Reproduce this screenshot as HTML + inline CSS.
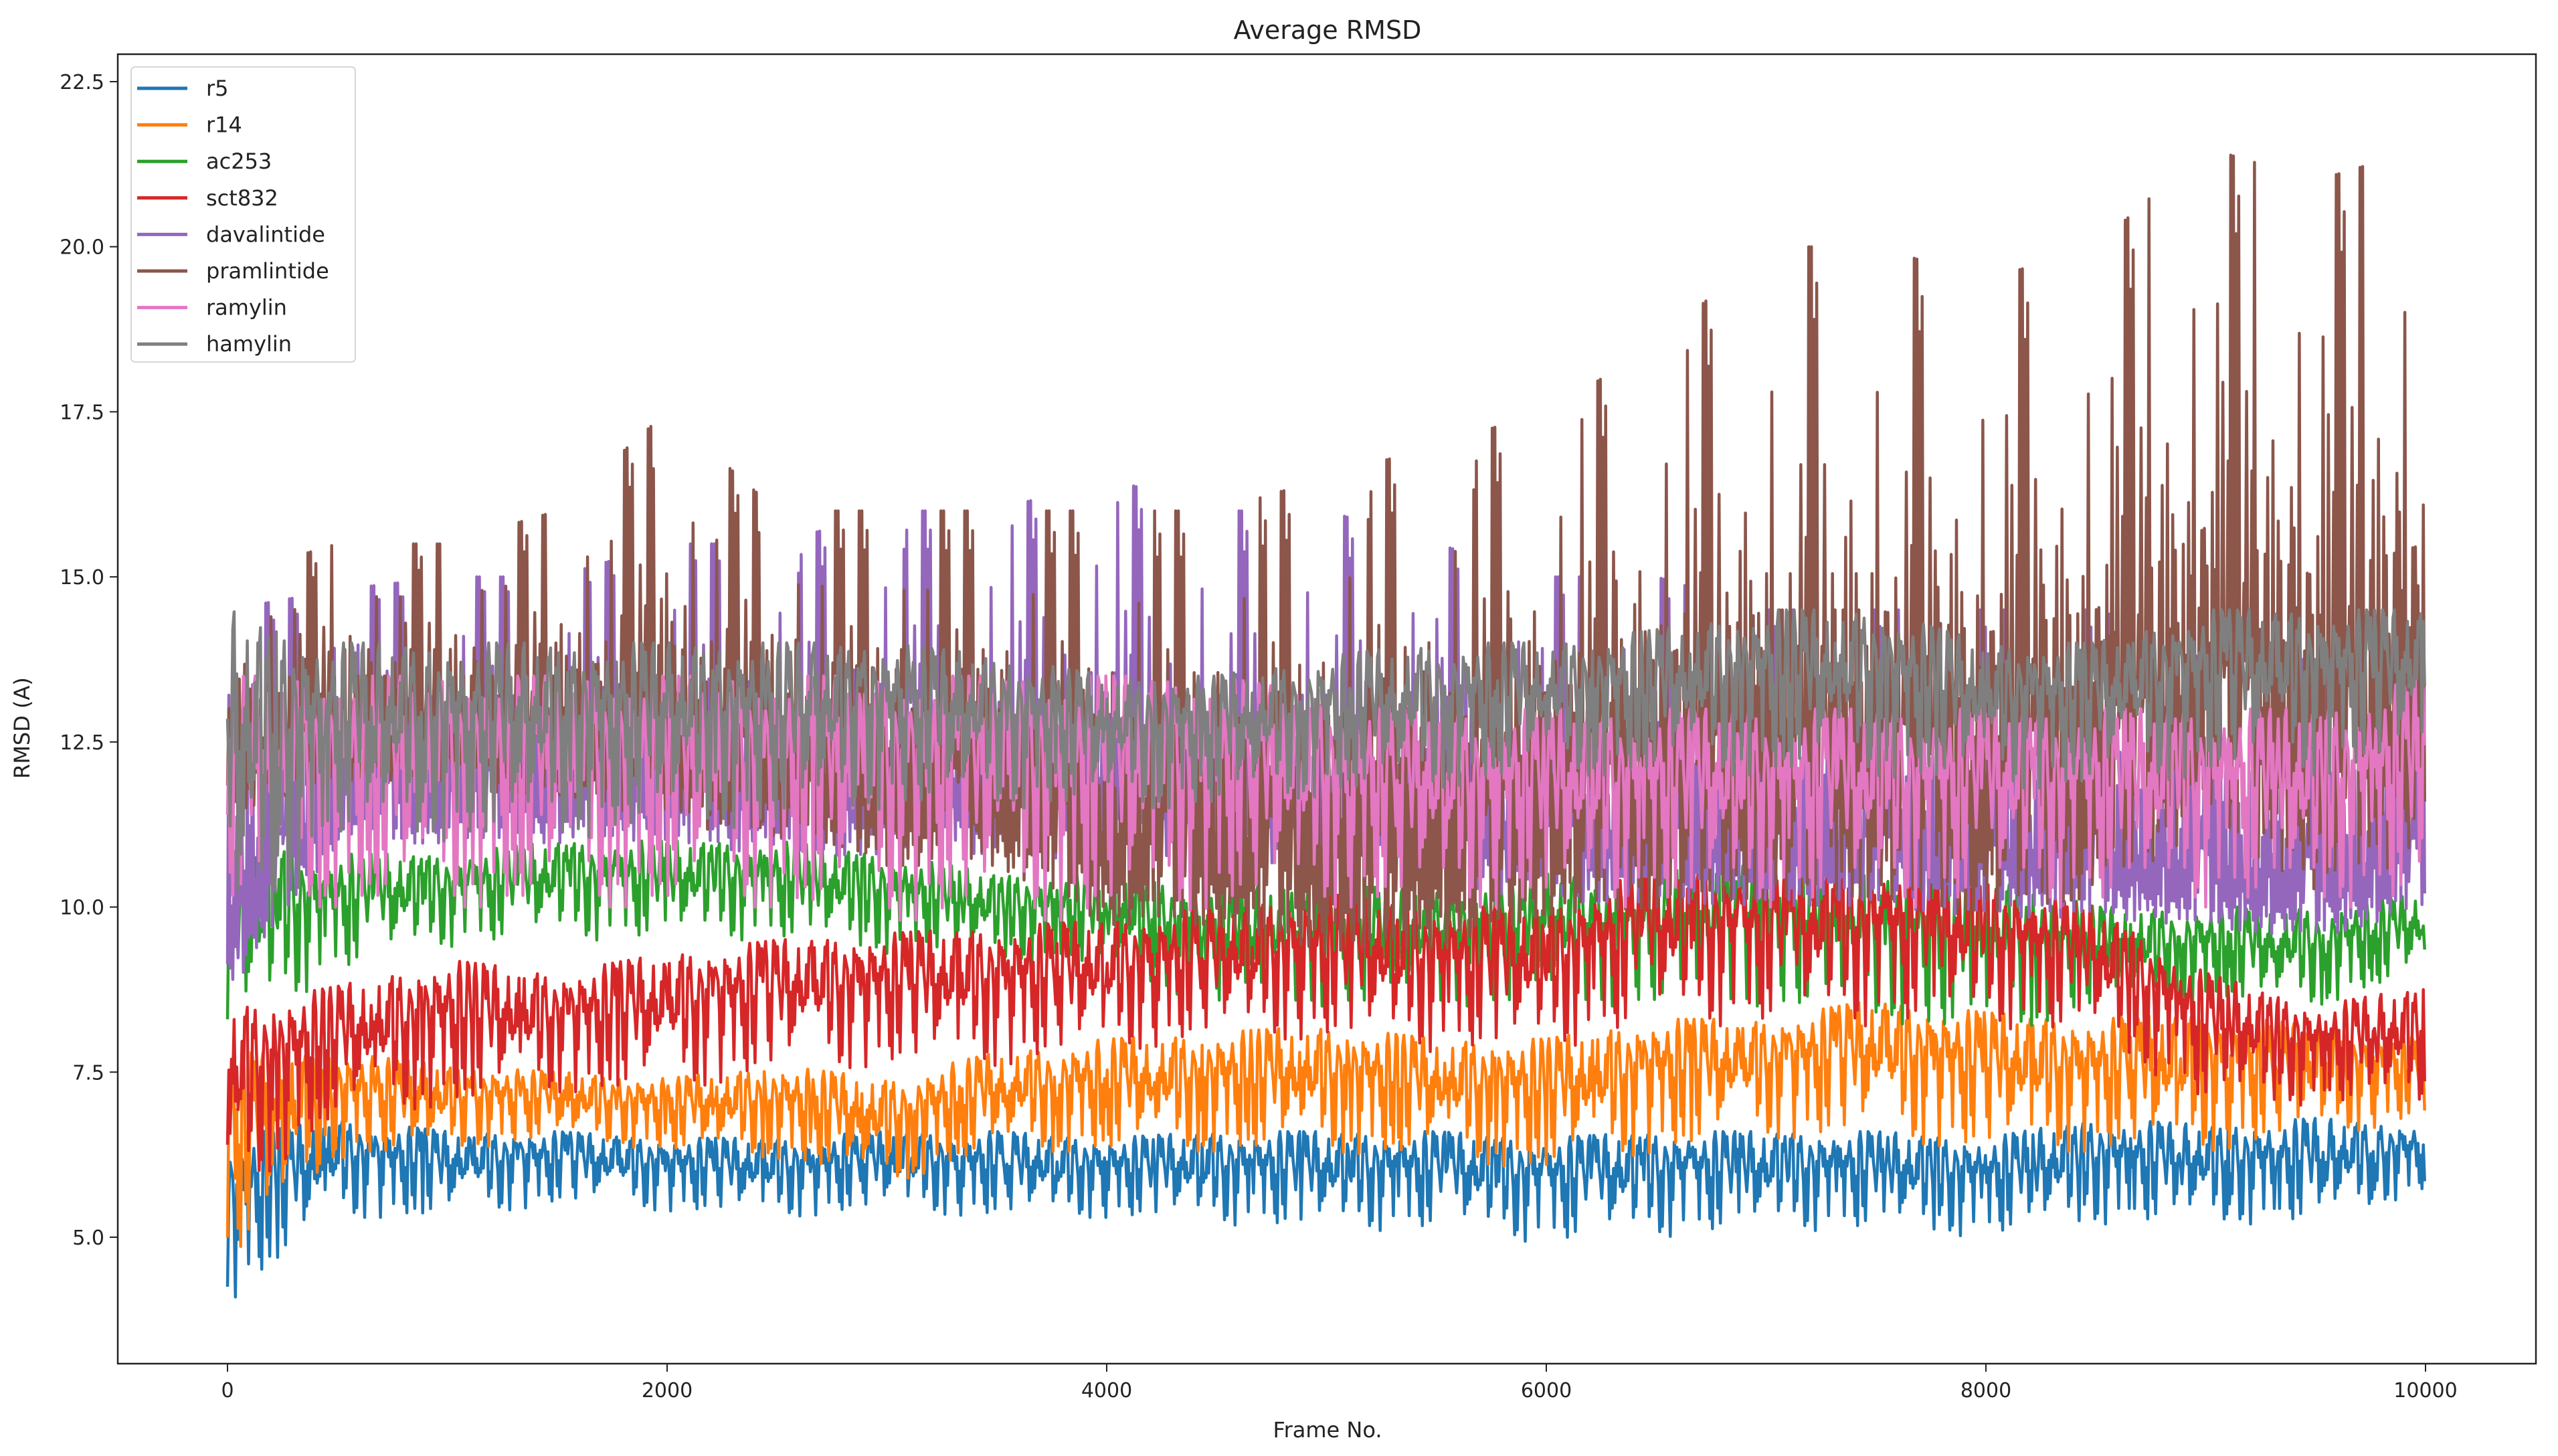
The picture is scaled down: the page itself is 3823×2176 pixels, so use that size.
<!DOCTYPE html>
<html><head><meta charset="utf-8"><style>
html,body{margin:0;padding:0;background:#fff}
svg{display:block;font-family:"DejaVu Sans","Liberation Sans",sans-serif}
</style></head><body>
<svg id="chart" width="3823" height="2176" viewBox="0 0 3823 2176" xmlns="http://www.w3.org/2000/svg">
<rect width="3823" height="2176" fill="#fff"/>
<text x="1984" y="58" font-size="38" text-anchor="middle" fill="#222">Average RMSD</text>
<g id="plot"></g>
<g id="axes"></g>
<text x="1984" y="2148" font-size="32" text-anchor="middle" fill="#222">Frame No.</text>
<text x="44" y="1088" font-size="32" text-anchor="middle" fill="#222" transform="rotate(-90 44 1088)">RMSD (A)</text>
<g id="legend"></g>
</svg>
<script>
const frames = [0,500,1000,1500,2000,2500,3000,3500,4000,4500,5000,5500,6000,6500,7000,7500,8000,8500,9000,9500,10000];
const seriesNames = ["r5","r14","ac253","sct832","davalintide","pramlintide","ramylin","hamylin"];
const seriesColors = ["#1f77b4","#ff7f0e","#2ca02c","#d62728","#9467bd","#8c564b","#e377c2","#7f7f7f"];
const r5Lo = [4.0,5.3,5.3,5.5,5.4,5.3,5.4,5.3,5.3,5.2,5.1,5.1,4.9,5.0,5.1,5.1,5.0,5.2,5.2,5.2,5.7];
const r5Hi = [6.5,6.8,6.6,6.6,6.5,6.5,6.6,6.6,6.5,6.6,6.6,6.6,6.5,6.6,6.6,6.6,6.5,6.8,6.7,6.8,6.7];
const r14Lo = [4.5,6.2,6.3,6.5,6.3,6.2,5.8,6.3,6.3,6.3,6.3,6.2,6.0,6.3,6.5,6.5,6.3,6.3,6.3,6.5,6.8];
const r14Hi = [7.8,7.8,7.6,7.5,7.4,7.6,7.4,7.8,8.0,8.1,8.2,8.0,8.0,8.3,8.3,8.6,8.4,8.3,8.4,8.2,8.0];
const ac253Lo = [8.0,9.0,9.4,9.5,9.5,9.5,9.3,9.2,9.0,8.5,8.5,8.5,8.5,8.5,8.5,8.3,8.0,8.5,8.5,8.5,9.0];
const ac253Hi = [11.0,10.8,10.8,11.0,11.0,11.0,10.8,10.5,10.5,10.3,10.3,10.3,10.5,10.5,10.8,10.5,10.5,10.0,10.0,10.0,10.2];
const sct832Lo = [5.5,6.8,7.0,7.2,7.2,7.5,7.6,7.6,7.8,8.0,8.0,7.8,7.8,8.2,8.2,8.2,8.2,8.0,7.0,7.0,7.0];
const sct832Hi = [8.5,8.8,9.2,9.0,9.3,9.5,9.6,9.7,9.8,10.0,10.2,10.0,10.0,10.6,10.5,10.6,10.4,10.0,9.0,8.5,8.8];
const davaLo = [8.0,10.5,10.5,10.5,10.5,10.2,10.2,10.2,10.0,9.8,9.8,9.8,9.5,9.5,9.5,9.5,9.3,9.3,9.2,9.0,9.5];
const davaHi = [14.5,14.8,15.0,15.0,15.5,15.5,16.0,16.0,16.5,16.0,16.0,15.5,15.0,15.0,14.5,14.5,14.5,14.5,14.0,14.0,14.0];
const pramLo = [11.0,11.5,11.5,11.0,10.5,10.5,10.0,10.0,9.0,9.0,8.5,8.5,9.0,9.0,9.0,9.0,8.8,9.0,10.0,9.0,9.5];
const pramHi = [15.0,15.5,15.5,16.0,17.5,16.0,16.0,16.0,16.0,16.0,16.5,17.0,17.5,18.5,20.0,20.0,19.5,20.0,21.5,21.0,21.5];
const ramLo = [10.0,10.0,10.0,10.0,10.0,10.0,9.8,9.8,9.8,10.0,10.0,10.0,10.0,10.0,10.0,10.0,10.0,10.0,10.0,10.0,10.0];
const ramHi = [13.5,13.5,13.5,13.5,13.5,13.5,13.5,13.5,13.5,13.5,13.2,13.0,13.0,13.0,13.0,13.0,13.0,13.0,13.0,13.0,13.5];
const hamLo = [9.0,11.0,11.0,11.0,11.2,11.2,11.5,11.5,11.5,11.5,11.7,11.8,12.0,12.0,12.0,12.0,11.8,11.8,12.0,12.0,12.2];
const hamHi = [14.5,14.0,14.0,14.0,14.0,14.0,14.0,13.8,13.5,13.5,13.8,14.0,14.0,14.2,14.5,14.5,14.0,14.0,14.5,14.5,14.5];
const xTicks = [0,2000,4000,6000,8000,10000];
const yTicks = [5.0,7.5,10.0,12.5,15.0,17.5,20.0,22.5];

const NS = "http://www.w3.org/2000/svg";
const L = 176, R = 3790, T = 81, B = 2038;
function xs(f){ return 340 + f*(3625-340)/10000; }
function ys(v){ return 1849 - (v-5.0)*(1849-122)/17.5; }

const los = [r5Lo,r14Lo,ac253Lo,sct832Lo,davaLo,pramLo,ramLo,hamLo];
const his = [r5Hi,r14Hi,ac253Hi,sct832Hi,davaHi,pramHi,ramHi,hamHi];
const pattern = [0.1,0.9,0.35,0.7,0.05,0.55,0.85,0.2,0.6,0.4,1,0.15,0.75,0.3,0.5,0.95,0.25,0.65,0.0,0.8,0.45,0.6,0.1,0.9,0.35,0.7,0.5,0.2,1,0.4,0.8,0.05,0.55,0.3,0.75,0.15,0.65];
const spikePattern = [0.45,0.6,0.35,1,0.5,0.4,0.7,0.3,0.55,0.9,0.4,0.5,0.35,0.65,0.45,0.95,0.3,0.5,0.6,0.4,0.8,0.35,0.5,0.45,1,0.55,0.3];

function bandAt(arr, f){
  const i = Math.min(frames.length-2, Math.floor(f/500));
  const t = (f - frames[i])/(frames[i+1]-frames[i]);
  return arr[i]*(1-t) + arr[i+1]*t;
}

const plot = document.getElementById('plot');
for (let s = 0; s < seriesNames.length; s++){
  let d = "";
  const step = 6;
  const pat = (s === 5 || s === 4) ? spikePattern : pattern;
  for (let f = 0, k = 0; f <= 10000; f += step, k++){
    const lo = bandAt(los[s], f), hi = bandAt(his[s], f);
    let p = pat[(k*3 + s*11 + Math.floor(k/pat.length)) % pat.length];
    if (k % 2 === 1 && s !== 5 && s !== 4) p = 1 - p*0.5;
    if ((s === 5 || s === 4) && k % 2 === 0) p = p*0.35;
    const v = lo + (hi-lo)*p;
    d += (k===0?"M":"L") + xs(f).toFixed(1) + " " + ys(v).toFixed(1);
  }
  const path = document.createElementNS(NS,'path');
  path.setAttribute('d', d);
  path.setAttribute('fill','none');
  path.setAttribute('stroke', seriesColors[s]);
  path.setAttribute('stroke-width','4.5');
  path.setAttribute('stroke-linejoin','round');
  
  
  plot.appendChild(path);
}

const axes = document.getElementById('axes');
const frame = document.createElementNS(NS,'rect');
frame.setAttribute('x',L); frame.setAttribute('y',T);
frame.setAttribute('width',R-L); frame.setAttribute('height',B-T);
frame.setAttribute('fill','none'); frame.setAttribute('stroke','#222'); frame.setAttribute('stroke-width','2.5');


axes.appendChild(frame);

for (const t of xTicks){
  const ln = document.createElementNS(NS,'line');
  ln.setAttribute('x1',xs(t)); ln.setAttribute('x2',xs(t));
  ln.setAttribute('y1',B); ln.setAttribute('y2',B+12);
  ln.setAttribute('stroke','#222'); ln.setAttribute('stroke-width','2');
  
  
  axes.appendChild(ln);
  const tx = document.createElementNS(NS,'text');
  tx.setAttribute('x',xs(t)); tx.setAttribute('y',B+50);
  tx.setAttribute('font-size','30'); tx.setAttribute('text-anchor','middle'); tx.setAttribute('fill','#222');
  tx.textContent = String(t);
  
  
  axes.appendChild(tx);
}
for (const t of yTicks){
  const ln = document.createElementNS(NS,'line');
  ln.setAttribute('x1',L-12); ln.setAttribute('x2',L);
  ln.setAttribute('y1',ys(t)); ln.setAttribute('y2',ys(t));
  ln.setAttribute('stroke','#222'); ln.setAttribute('stroke-width','2');
  
  
  axes.appendChild(ln);
  const tx = document.createElementNS(NS,'text');
  tx.setAttribute('x',L-20); tx.setAttribute('y',ys(t)+11);
  tx.setAttribute('font-size','30'); tx.setAttribute('text-anchor','end'); tx.setAttribute('fill','#222');
  tx.textContent = t.toFixed(1);
  
  
  axes.appendChild(tx);
}

const legend = document.getElementById('legend');
const box = document.createElementNS(NS,'rect');
box.setAttribute('x',196); box.setAttribute('y',100); box.setAttribute('width',335); box.setAttribute('height',441);
box.setAttribute('rx',6); box.setAttribute('fill','#fff'); box.setAttribute('fill-opacity','0.85');
box.setAttribute('stroke','#d6d6d6'); box.setAttribute('stroke-width','2');


legend.appendChild(box);
for (let s = 0; s < seriesNames.length; s++){
  const y = 132 + s*54.6;
  const ln = document.createElementNS(NS,'line');
  ln.setAttribute('x1',205); ln.setAttribute('x2',280);
  ln.setAttribute('y1',y); ln.setAttribute('y2',y);
  ln.setAttribute('stroke',seriesColors[s]); ln.setAttribute('stroke-width','5');
  
  
  legend.appendChild(ln);
  const tx = document.createElementNS(NS,'text');
  tx.setAttribute('x',308); tx.setAttribute('y',y+11);
  tx.setAttribute('font-size','32'); tx.setAttribute('fill','#222');
  tx.textContent = seriesNames[s];
  
  
  legend.appendChild(tx);
}
</script>
</body></html>
